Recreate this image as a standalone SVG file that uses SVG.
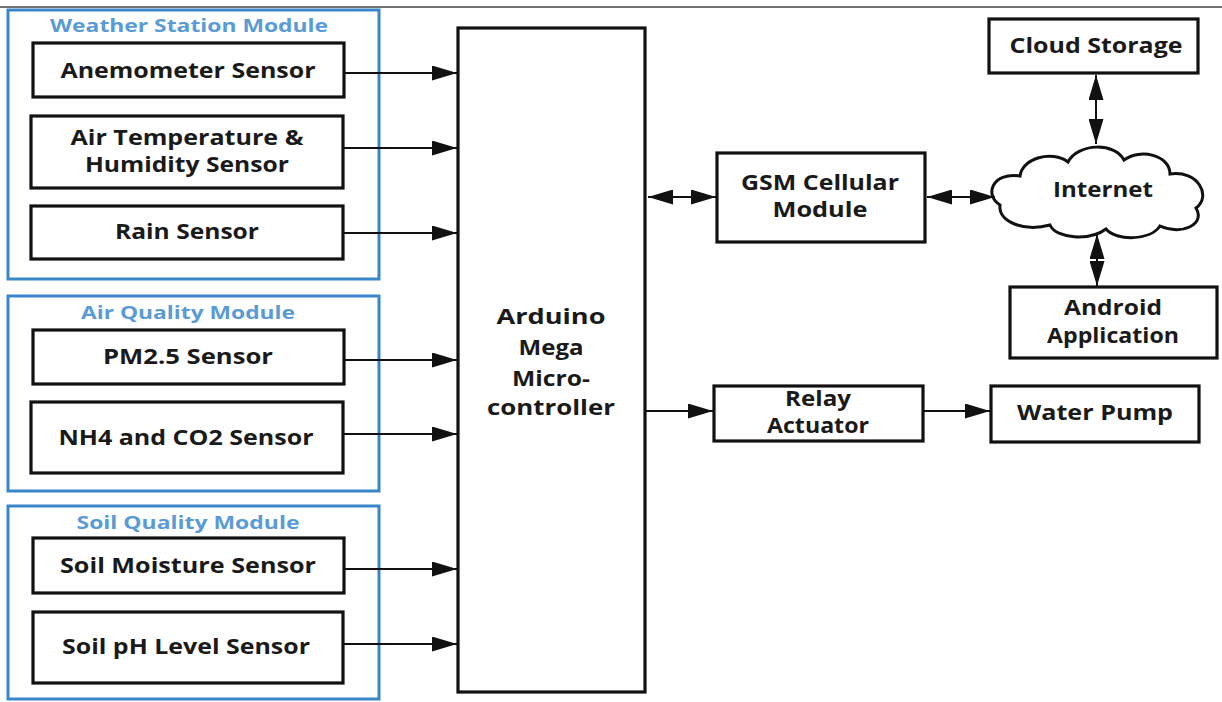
<svg xmlns="http://www.w3.org/2000/svg" width="1222" height="702" viewBox="0 0 1222 702">
<style>
.box{fill:#fff;stroke:#111;stroke-width:3.2}
.mod{fill:none;stroke:#3A86C8;stroke-width:3}
.t{font-family:"Open Sans","Liberation Sans",sans-serif;font-weight:bold;font-size:21px;fill:#1a1a1a;text-anchor:middle}
.mt{font-family:"Open Sans","Liberation Sans",sans-serif;font-weight:bold;font-size:17px;fill:#5B9BD5;text-anchor:middle}
.c{fill:none;stroke:#111;stroke-width:2}
</style>
<defs>
<marker id="ah" markerUnits="userSpaceOnUse" markerWidth="25" markerHeight="15" refX="25" refY="7.5" orient="auto-start-reverse">
<path d="M0,0 L25,7.5 L0,15 Z" fill="#111"/>
</marker>
</defs>
<rect width="1222" height="702" fill="#fff"/>
<line x1="0" y1="7" x2="1222" y2="7" stroke="#444" stroke-width="1.5"/>

<g id="weather-module">
<rect class="mod" x="8" y="10" width="371" height="269"/>
<text class="mt" x="189" y="32" textLength="278" lengthAdjust="spacingAndGlyphs">Weather Station Module</text>
</g>
<g id="anemometer">
<rect class="box" x="33" y="43" width="311" height="54"/>
<text class="t" x="188" y="78" textLength="255" lengthAdjust="spacingAndGlyphs">Anemometer Sensor</text>
</g>
<g id="airtemp">
<rect class="box" x="31" y="116" width="312" height="72"/>
<text class="t" x="187" y="145" textLength="233" lengthAdjust="spacingAndGlyphs">Air Temperature &amp;</text>
<text class="t" x="187" y="172" textLength="204" lengthAdjust="spacingAndGlyphs">Humidity Sensor</text>
</g>
<g id="rain">
<rect class="box" x="31" y="206" width="312" height="53"/>
<text class="t" x="187" y="239" textLength="144" lengthAdjust="spacingAndGlyphs">Rain Sensor</text>
</g>

<g id="air-module">
<rect class="mod" x="8" y="296" width="371" height="195"/>
<text class="mt" x="188" y="319" textLength="214" lengthAdjust="spacingAndGlyphs">Air Quality Module</text>
</g>
<g id="pm25">
<rect class="box" x="33" y="330" width="311" height="54"/>
<text class="t" x="188" y="364" textLength="170" lengthAdjust="spacingAndGlyphs">PM2.5 Sensor</text>
</g>
<g id="nh4">
<rect class="box" x="31" y="402" width="312" height="71"/>
<text class="t" x="186" y="445" textLength="255" lengthAdjust="spacingAndGlyphs">NH4 and CO2 Sensor</text>
</g>

<g id="soil-module">
<rect class="mod" x="8" y="506" width="371" height="193"/>
<text class="mt" x="188" y="529" textLength="223" lengthAdjust="spacingAndGlyphs">Soil Quality Module</text>
</g>
<g id="soil-moisture">
<rect class="box" x="33" y="538" width="311" height="55"/>
<text class="t" x="188" y="573" textLength="256" lengthAdjust="spacingAndGlyphs">Soil Moisture Sensor</text>
</g>
<g id="soil-ph">
<rect class="box" x="33" y="612" width="310" height="71"/>
<text class="t" x="186" y="654" textLength="248" lengthAdjust="spacingAndGlyphs">Soil pH Level Sensor</text>
</g>

<g id="arduino">
<rect class="box" x="458" y="28" width="187" height="664"/>
<text class="t" x="551" y="324" font-size="22" textLength="109" lengthAdjust="spacingAndGlyphs">Arduino</text>
<text class="t" x="551" y="355" font-size="22" textLength="65" lengthAdjust="spacingAndGlyphs">Mega</text>
<text class="t" x="551" y="386" font-size="22" textLength="78" lengthAdjust="spacingAndGlyphs">Micro-</text>
<text class="t" x="551" y="415" font-size="22" textLength="128" lengthAdjust="spacingAndGlyphs">controller</text>
</g>

<g id="gsm">
<rect class="box" x="717" y="153" width="208" height="89"/>
<text class="t" x="820" y="190" textLength="158" lengthAdjust="spacingAndGlyphs">GSM Cellular</text>
<text class="t" x="820" y="217" textLength="95" lengthAdjust="spacingAndGlyphs">Module</text>
</g>

<g id="cloud-storage">
<rect class="box" x="989" y="19" width="209" height="54"/>
<text class="t" x="1096" y="53" textLength="173" lengthAdjust="spacingAndGlyphs">Cloud Storage</text>
</g>

<g id="internet">
<path d="M1000,205 C984,195 992,172 1020,176 C1022,158 1052,150 1068,162 C1078,143 1115,142 1124,160 C1140,148 1170,155 1170,174 C1198,170 1212,196 1196,208 C1206,224 1182,236 1160,226 C1150,241 1116,241 1106,229 C1090,241 1056,239 1050,225 C1024,232 998,222 1000,205 Z" fill="#fff" stroke="#111" stroke-width="3"/>
<text class="t" x="1103" y="197" textLength="100" lengthAdjust="spacingAndGlyphs">Internet</text>
</g>

<g id="android">
<rect class="box" x="1010" y="287" width="207" height="71"/>
<text class="t" x="1113" y="315" textLength="98" lengthAdjust="spacingAndGlyphs">Android</text>
<text class="t" x="1113" y="343" textLength="132" lengthAdjust="spacingAndGlyphs">Application</text>
</g>

<g id="relay">
<rect class="box" x="714" y="386" width="209" height="55"/>
<text class="t" x="818" y="406" textLength="66" lengthAdjust="spacingAndGlyphs">Relay</text>
<text class="t" x="818" y="433" textLength="102" lengthAdjust="spacingAndGlyphs">Actuator</text>
</g>

<g id="water-pump">
<rect class="box" x="991" y="386" width="208" height="56"/>
<text class="t" x="1095" y="420" textLength="156" lengthAdjust="spacingAndGlyphs">Water Pump</text>
</g>

<g id="connectors">
<line class="c" x1="344" y1="73" x2="457" y2="73" marker-end="url(#ah)"/>
<line class="c" x1="343" y1="148" x2="457" y2="148" marker-end="url(#ah)"/>
<line class="c" x1="343" y1="233" x2="457" y2="233" marker-end="url(#ah)"/>
<line class="c" x1="344" y1="360" x2="457" y2="360" marker-end="url(#ah)"/>
<line class="c" x1="343" y1="434" x2="457" y2="434" marker-end="url(#ah)"/>
<line class="c" x1="344" y1="569" x2="457" y2="569" marker-end="url(#ah)"/>
<line class="c" x1="343" y1="644" x2="457" y2="644" marker-end="url(#ah)"/>
<line class="c" x1="648" y1="197" x2="716" y2="197" marker-start="url(#ah)" marker-end="url(#ah)"/>
<line class="c" x1="927" y1="197" x2="995" y2="197" marker-start="url(#ah)" marker-end="url(#ah)"/>
<line class="c" x1="1096" y1="75" x2="1096" y2="144" marker-start="url(#ah)" marker-end="url(#ah)"/>
<line class="c" x1="1097" y1="234" x2="1097" y2="286" marker-start="url(#ah)" marker-end="url(#ah)"/>
<line class="c" x1="646" y1="411" x2="713" y2="411" marker-end="url(#ah)"/>
<line class="c" x1="924" y1="411" x2="990" y2="411" marker-end="url(#ah)"/>
</g>
</svg>
